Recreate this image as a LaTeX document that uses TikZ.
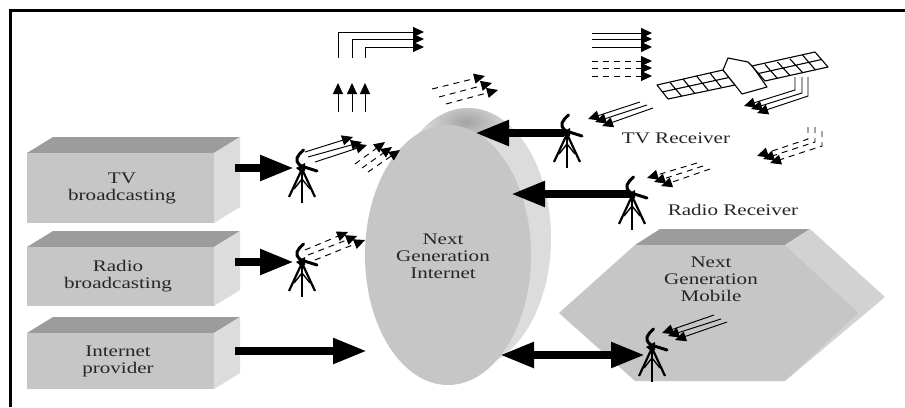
\documentclass[tikz,border=0pt]{standalone}
\usepackage{fontspec}
\setmainfont[FakeStretch=1.3]{Liberation Serif}
\usetikzlibrary{arrows.meta,shadings,fadings}
\definecolor{facegray}{HTML}{C6C6C6}
\definecolor{topgray}{HTML}{9C9C9C}
\definecolor{sidegray}{HTML}{DCDCDC}
\definecolor{rimgray}{HTML}{D2D2D2}
\tikzset{
  x=1pt,y=-1pt,
  lbl/.style={font=\fontsize{16.2}{17}\selectfont,align=center,text=black!85,inner sep=0pt},
  bigarrow/.style={line width=8pt,-{Triangle[length=34pt,width=24pt]}},
  bigboth/.style={line width=8pt,{Triangle[length=34pt,width=24pt]}-{Triangle[length=34pt,width=24pt]}},
  beam/.style={line width=0.95pt,-{Triangle[length=11pt,width=10pt]}},
  dbeam/.style={beam,dash pattern=on 6pt off 5pt},
  panel/.style={line width=1.1pt,draw=black,fill=white,line join=round},
  antenna/.pic={
    \draw[line width=3pt,line cap=round] (1.5,-18) .. controls (-4,-13) and (-9,-8) .. (-1,-2) -- (15,3);
    \fill (-6,0) -- (3,-5) -- (3,3) -- (-1,4) -- cycle;
    \draw[line width=2.2pt] (0,1) -- (-13,29) (0,1) -- (13,29);
    \draw[line width=2.4pt] (0,1) -- (0,35);
    \draw[line width=1.4pt] (-8,21) -- (0,11) -- (8,21);
  }
}
\newcommand{\cuboid}[7]{% name, x1, x2, yfront, ybottom, text, textx
  \fill[topgray] (#2,#4) -- (#2+26,#4-16) -- (240,#4-16) -- (#3,#4) -- cycle;
  \fill[sidegray] (#3,#4) -- (240,#4-16) -- (240,#5-16) -- (#3,#5) -- cycle;
  \fill[facegray] (#2,#4) rectangle (#3,#5);
  \node[lbl] (#1) at (#7,{(#4+#5)/2}) {#6};
}
\begin{document}
\begin{tikzpicture}
\useasboundingbox (0,0) rectangle (905,407);
\fill[white] (0,0) rectangle (905,407);
\draw[line width=3pt] (905,10.5) -- (10.5,10.5) -- (10.5,407);

% cuboids
\cuboid{tvbox}{27}{214}{153}{223}{TV\\broadcasting}{122}
\cuboid{radiobox}{27}{214}{247}{306}{Radio\\broadcasting}{118}
\cuboid{netbox}{27}{214}{333}{389}{Internet\\provider}{118}

% disc
\fill[sidegray] (468,238) ellipse [x radius=83,y radius=130];
\begin{scope}
  \clip (468,238) ellipse [x radius=83,y radius=130];
  \shade[inner color=black!36,outer color=sidegray] (466,122) ellipse [x radius=46,y radius=24];
\end{scope}
\fill[facegray] (448,255) ellipse [x radius=83,y radius=130];
\node[lbl] (ngi) at (443,256) {Next\\Generation\\Internet};

% hexagon
\fill[topgray] (635,245) -- (660,229) -- (810,229) -- (785,245) -- cycle;
\fill[rimgray] (785,245) -- (810,229) -- (885,297) -- (785,381) -- (859,313) -- cycle;
\fill[facegray] (559,313) -- (635,245) -- (785,245) -- (859,313) -- (785,381) -- (635,381) -- cycle;
\node[lbl] (ngm) at (711,279) {Next\\Generation\\Mobile};

% antennas
\coordinate (atv) at (302,168);
\coordinate (aradio) at (302,262);
\coordinate (arx1) at (567,133);
\coordinate (arx2) at (632,195);
\coordinate (amob) at (652,347);
\foreach \a in {atv,aradio,arx1,arx2,amob} \pic at (\a) {antenna};

% big arrows
\coordinate (tvout) at (235,168);
\coordinate (radout) at (235,262);
\coordinate (netout) at (235,351);
\coordinate (netin) at (367,351);
\coordinate (tvtip) at (294,168);
\coordinate (radtip) at (294,262);
\coordinate (rx1tip) at (475,133);
\coordinate (rx1s) at (564,133);
\coordinate (rx2tip) at (511,194);
\coordinate (rx2s) at (630,194);
\coordinate (mobl) at (500,355);
\coordinate (mobr) at (645,355);
\draw[bigarrow] (tvout) -- (tvtip);
\draw[bigarrow] (radout) -- (radtip);
\draw[bigarrow] (netout) -- (netin);
\draw[bigarrow] (rx1s) -- (rx1tip);
\draw[bigarrow] (rx2s) -- (rx2tip);
\draw[bigboth] (mobl) -- (mobr);

% angled and upward beams
\draw[beam,line join=miter] (338,58) -- (338,32) -- (424,32);
\draw[beam,line join=miter] (352,58) -- (352,39) -- (424,39);
\draw[beam,line join=miter] (365,58) -- (365,47) -- (424,47);
\foreach \x in {338,352,365} \draw[beam] (\x,112) -- (\x,83);

% beams above disc
\draw[dbeam] (432,89) -- (485,76);
\draw[dbeam] (439,97) -- (492,83);
\draw[dbeam] (446,104) -- (498,90);
\draw[dbeam] (355,164) -- (385,142);
\draw[dbeam] (362,168) -- (392,147);
\draw[dbeam] (368,172) -- (400,150);

% transmit beams
\draw[beam] (305,152) -- (353,137);
\draw[beam] (308,157) -- (362,142);
\draw[beam] (315,162) -- (367,145);
\draw[dbeam] (305,250) -- (348,232);
\draw[dbeam] (308,255) -- (357,236);
\draw[dbeam] (315,260) -- (365,240);

% top right beams
\foreach \y in {33,39,47} \draw[beam] (592,\y) -- (652,\y);
\foreach \y in {61,68,76} \draw[dbeam] (592,\y) -- (652,\y);

% satellite
\draw[panel] (657,85) -- (723,70) -- (735,85) -- (668,99) -- cycle;
\draw[line width=1.1pt] (662,92) -- (729,77.5)
  (670,82.5) -- (681.5,96) (683,79) -- (694.5,93) (696.5,76) -- (708,90) (710,73) -- (721.5,87.5);
\draw[panel] (723,70) -- (728,58) -- (748,62) -- (753,67) -- (767,87) -- (742,94) -- (735,85) -- cycle;
\draw[panel] (752,66) -- (815,52) -- (828,67) -- (765,81) -- cycle;
\draw[line width=1.1pt] (758.5,73.5) -- (821.5,59.5)
  (765,64.5) -- (777.5,78.5) (777.5,62) -- (790,75.5) (790,59) -- (803,73) (802.5,55) -- (815.5,70);
\draw[beam,line join=miter] (795,77) -- (795,90) -- (744,106);
\draw[beam,line join=miter] (802,77) -- (802,93) -- (751,109);
\draw[beam,line join=miter] (808,77) -- (808,96) -- (757,113);

% receive beams
\draw[beam] (640,102) -- (588,119);
\draw[beam] (647,105) -- (595,122);
\draw[beam] (653,108) -- (602,126);
\draw[dbeam] (697,163) -- (647,178);
\draw[dbeam] (703,166) -- (654,182);
\draw[dbeam] (710,169) -- (661,186);
\draw[dbeam] (808,127) -- (808,139) -- (757,156);
\draw[dbeam] (815,127) -- (815,142) -- (763,159);
\draw[dbeam] (822,131) -- (822,146) -- (770,163);
\draw[beam] (714,315) -- (662,333);
\draw[beam] (721,319) -- (668,336);
\draw[beam] (727,322) -- (675,340);

\node[lbl] (tvrx) at (676,138) {TV Receiver};
\node[lbl] (radrx) at (733,210) {Radio Receiver};
\end{tikzpicture}
\end{document}
